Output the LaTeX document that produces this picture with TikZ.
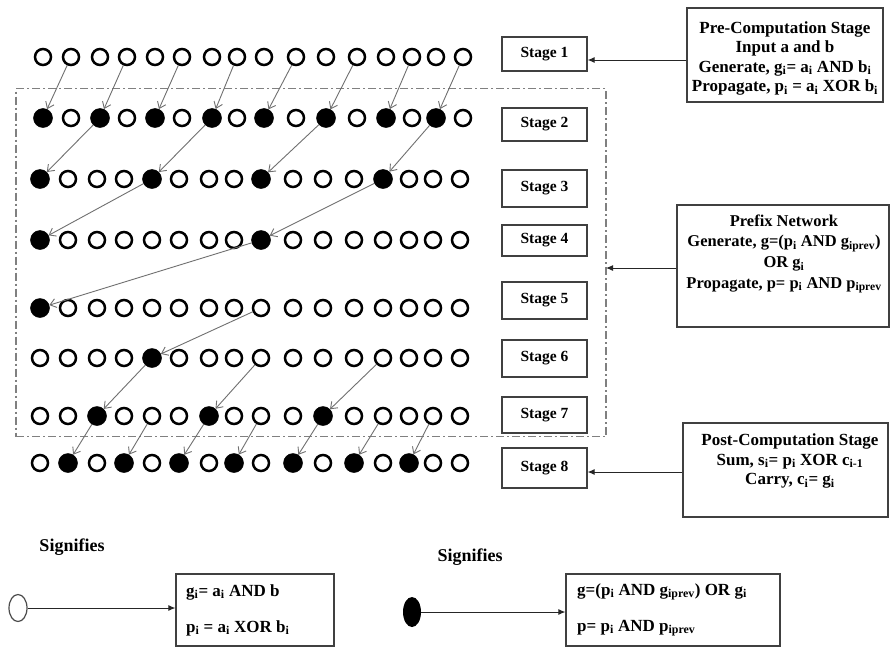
\documentclass[tikz,border=0pt]{standalone}
\usepackage{fontspec}
\setmainfont{Liberation Serif}
\usetikzlibrary{arrows.meta,shapes.geometric}
\definecolor{linkgray}{HTML}{707070}
\definecolor{framegray}{HTML}{808080}
\newcommand\ring[3]{%
  \pgfmathsetmacro\xx{{41,69,98,125,153,180,210,235,262,294,324,355,384,410,434,461}[#2]+{0,2,2,-1,-1,-1,-1,-1,-1}[#1]}%
  \pgfmathsetmacro\yy{{0,57,118,179,240,308,358,416,463}[#1]}%
  \node[#3] (n#1-#2) at (\xx,\yy) {};}
\newcommand\si{\textsubscript{i}}
\begin{document}
\begin{tikzpicture}[x=1pt,y=-1pt,
  opn/.style={circle,draw=black,line width=2.5pt,minimum size=16pt,inner sep=0pt},
  fil/.style={circle,fill=black,draw=black,line width=0.5pt,minimum size=19pt,inner sep=0pt},
  link/.style={draw=linkgray,line width=0.9pt,-{Straight Barb[length=6pt,width=9pt]}},
  rarrow/.style={draw=black!85,line width=1pt,-{Latex[length=7pt,width=6pt]}},
  stagebox/.style={draw=black!75,line width=1.2pt,minimum width=85pt,inner sep=0pt,
    font=\fontsize{15.5}{18}\selectfont\bfseries},
  infobox/.style={draw=black!75,line width=1.2pt,inner sep=0pt},
  infotext/.style={align=center,inner sep=0pt,font=\fontsize{17}{19.5}\selectfont\bfseries},
  legtext/.style={anchor=west,inner sep=0pt,font=\fontsize{17}{20}\selectfont\bfseries},
  sigtext/.style={inner sep=0pt,font=\fontsize{18}{20}\selectfont\bfseries}]
\useasboundingbox (0,0) rectangle (891,648);
\fill[white] (0,0) rectangle (891,648);

% dash-dot frame
\node[draw=framegray,line width=1.2pt,dash pattern=on 8pt off 3pt on 2pt off 3pt,
  minimum width=590pt,minimum height=348pt,inner sep=0pt] (frame) at (311,262.5) {};

% circles
\foreach \i in {0,...,15} {\ring{1}{\i}{opn}}
\foreach \i in {0,2,...,14} {\ring{2}{\i}{fil}}
\foreach \i in {1,3,...,15} {\ring{2}{\i}{opn}}
\foreach \i in {0,4,8,12} {\ring{3}{\i}{fil}}
\foreach \i in {1,2,3,5,6,7,9,10,11,13,14,15} {\ring{3}{\i}{opn}}
\foreach \i in {0,8} {\ring{4}{\i}{fil}}
\foreach \i in {1,...,7,9,10,11,12,13,14,15} {\ring{4}{\i}{opn}}
\foreach \i in {0} {\ring{5}{\i}{fil}}
\foreach \i in {1,...,15} {\ring{5}{\i}{opn}}
\foreach \i in {4} {\ring{6}{\i}{fil}}
\foreach \i in {0,1,2,3,5,6,...,15} {\ring{6}{\i}{opn}}
\foreach \i in {2,6,10} {\ring{7}{\i}{fil}}
\foreach \i in {0,1,3,4,5,7,8,9,11,12,13,14,15} {\ring{7}{\i}{opn}}
\foreach \i in {1,3,...,13} {\ring{8}{\i}{fil}}
\foreach \i in {0,2,...,14,15} {\ring{8}{\i}{opn}}

% links
\foreach \s/\t in {1-1/2-0,1-3/2-2,1-5/2-4,1-7/2-6,1-9/2-8,1-11/2-10,1-13/2-12,1-15/2-14,
  2-2/3-0,2-6/3-4,2-10/3-8,2-14/3-12,
  3-4/4-0,3-12/4-8,
  4-8/5-0,
  5-8/6-4,
  6-4/7-2,6-8/7-6,6-12/7-10,
  7-2/8-1,7-4/8-3,7-6/8-5,7-8/8-7,7-10/8-9,7-12/8-11,7-14/8-13}
  {\draw[link] (n\s) -- (n\t);}

% stage boxes
\foreach \k/\c/\h in {1/54/34,2/124.5/33,3/188.5/37,4/240.5/31,5/300.5/37,6/358.5/37,7/415/36,8/468/40}
  {\node[stagebox,minimum height=\h pt] (s\k) at (544.5,\c) {Stage \k};}

% info boxes
\node[infobox,minimum width=196pt,minimum height=94pt] (prebox) at (785,55) {};
\node[infotext] (pretext) at (785,58.5) {Pre-Computation Stage\\Input a and b\\
  Generate, g\si= a\si{} AND b\si\\Propagate, p\si{} = a\si{} XOR b\si};
\node[infobox,minimum width=212pt,minimum height=122pt] (prebox2) at (783,266) {};
\node[infotext,font=\fontsize{16.5}{20.7}\selectfont\bfseries] (prefixtext) at (784,254)
  {Prefix Network\\Generate, g=(p\si{} AND g\textsubscript{iprev})\\OR g\si\\
  Propagate, p= p\si{} AND p\textsubscript{iprev}};
\node[infobox,minimum width=205pt,minimum height=94pt] (postbox) at (785.5,470) {};
\node[infotext] (posttext) at (790,461) {Post-Computation Stage\\
  Sum, s\si= p\si{} XOR c\textsubscript{i-1}\\Carry, c\si= g\si};

% right arrows
\coordinate (a1) at ([yshift=-6pt]s1.east);
\draw[rarrow] (a1 -| prebox.west) -- (a1);
\coordinate (a2) at (606,268);
\draw[rarrow] (a2 -| prebox2.west) -- (a2);
\coordinate (a3) at ([yshift=-4pt]s8.east);
\draw[rarrow] (a3 -| postbox.west) -- (a3);

% legend
\node[sigtext] (sig1) at (72,547) {Signifies};
\node[sigtext] (sig2) at (470,557) {Signifies};
\node[ellipse,draw=black!70,line width=1.2pt,minimum width=18pt,minimum height=27pt,inner sep=0pt] (lo) at (18,608) {};
\node[ellipse,fill=black,minimum width=18pt,minimum height=30pt,inner sep=0pt] (lf) at (412,612) {};
\node[infobox,minimum width=158pt,minimum height=72pt] (lb1) at (255,610) {};
\node[infobox,minimum width=214pt,minimum height=72pt] (lb2) at (673,610) {};
\draw[rarrow] (lo) -- (lo -| lb1.west);
\draw[rarrow] (lf) -- (lf -| lb2.west);
\node[legtext] (l1a) at (186,592) {g\si= a\si{} AND b};
\node[legtext] (l1b) at (186,628) {p\si{} = a\si{} XOR b\si};
\node[legtext] (l2a) at (577,592) {g=(p\si{} AND g\textsubscript{iprev}) OR g\si};
\node[legtext] (l2b) at (577,628) {p= p\si{} AND p\textsubscript{iprev}};
\end{tikzpicture}
\end{document}
